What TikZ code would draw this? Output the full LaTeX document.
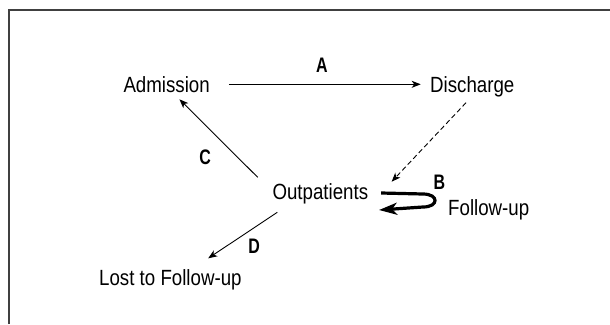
\documentclass[tikz,border=0pt]{standalone}
\usepackage{fontspec}
\newfontfamily\condfont{Liberation Sans}[FakeStretch=0.85]
\newfontfamily\condbold{Liberation Sans}[FakeStretch=0.76]
\usetikzlibrary{arrows.meta,positioning}
\tikzset{state node/.style={inner sep=0pt,anchor=base west,font=\condfont\fontsize{22}{26}\selectfont},
         edge label/.style={inner sep=0pt,font=\condbold\bfseries\fontsize{21}{25}\selectfont},
         flow edge/.style={->,line width=0.9pt},
         loop edge/.style={-{Stealth[length=18pt,width=12pt,inset=5pt]},line width=3.2pt},
         frame line/.style={line width=1.3pt,black!75},
}

\begin{document}
\begin{tikzpicture}[>={Stealth[length=9pt,width=7pt,inset=2.5pt]},
x=1pt, y=-1pt]
\useasboundingbox (0,0) rectangle (610,324);
% \draw[help lines,step=10] (0,0) grid (610,324);
\draw[frame line] (9,324) -- (9,10) -- (610,10);

\node[state node] (adm) at (123.3,92.3) {Admission};
\node[state node] (dis) at (430,92.3) {Discharge};
\node[state node] (out) at (272.3,199.3) {Outpatients};
\node[state node] (lost) at (99,285) {Lost to Follow-up};
\node[state node] (fup) at (448,215) {Follow-up};

\draw[flow edge] ([xshift=19pt,yshift=8pt]adm.base east) -- node[edge label, above=11pt, xshift=-3pt] (a) {A} ([xshift=-9.3pt,yshift=8pt]dis.base west);
\draw[flow edge, dash pattern=on 5pt off 3pt] ([xshift=36pt,yshift=-10.4pt]dis.base west) -- ([xshift=23.3pt,yshift=17.6pt]out.base east);
\draw[flow edge] ([xshift=-14.6pt,yshift=22pt]out.base west) -- node[edge label, pos=0.26, left=26pt] (c) {C} ([xshift=12.8pt,yshift=-7pt]adm.base);
\draw[flow edge] ([xshift=5pt,yshift=-13pt]out.base west) -- node[edge label, pos=0.73, right=21pt] (d) {D} ([xshift=37.8pt,yshift=26.7pt]lost.base);

\draw[loop edge] ([xshift=12.7pt,yshift=6.3pt]out.base east) -- ++(42,1)
    .. controls +(16,0) and +(16,0) .. ++(0,13) -- ++(-44,3);
\node[edge label, above right=10pt and 65pt of out.base east] (b) {B};
\end{tikzpicture}
\end{document}
